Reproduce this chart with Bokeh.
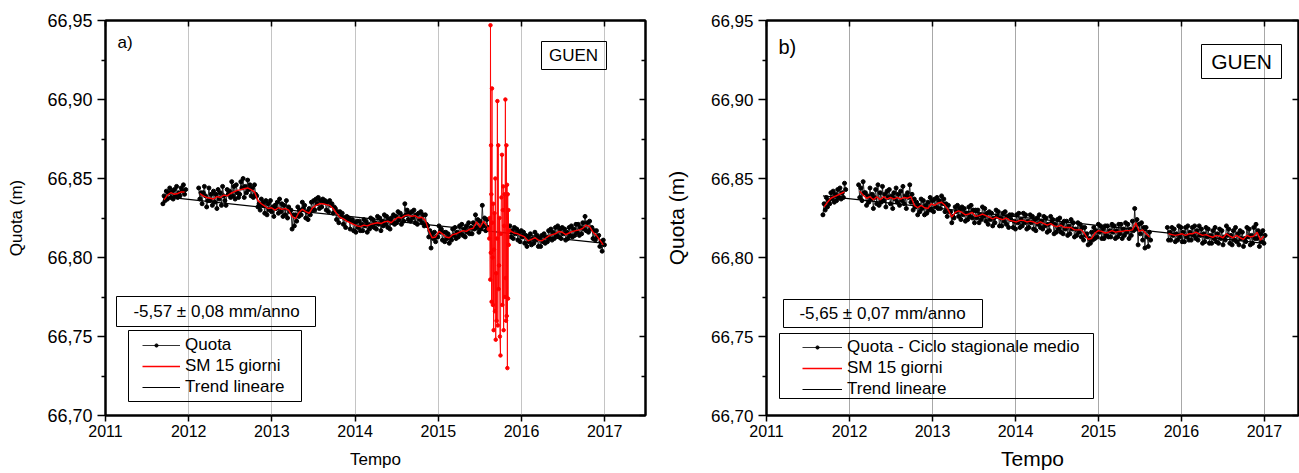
from bokeh.plotting import figure
from bokeh.models import (Range1d, LinearAxis, FixedTicker, CustomJSTickFormatter,
                          Legend, LegendItem, BoxAnnotation, Label)
from bokeh.layouts import row
from bokeh.embed import file_html
from bokeh.resources import INLINE

FONT = "Liberation Sans"
DAY = 1.0 / 365.25
Q_STEP = 5     # days between plotted Quota samples
SM_STEP = 15   # days between SM 15 giorni samples

years = [2011, 2012, 2013, 2014, 2015, 2016, 2017]
quota_ticks = [66.70, 66.75, 66.80, 66.85, 66.90, 66.95]
quota_minor = [66.725, 66.775, 66.825, 66.875, 66.925]

# ---------------- panel a) ----------------
seg_start_a = [2011.69, 2012.12, 2015.86]

quota_a_1 = [66.834, 66.839, 66.836, 66.842, 66.837, 66.841, 66.844, 66.838, 66.842, 66.837,
             66.843, 66.839, 66.845, 66.838, 66.841, 66.839, 66.844, 66.842, 66.846, 66.840, 66.843]

quota_a_2 = [
    66.844, 66.837, 66.841, 66.834, 66.841, 66.845, 66.839, 66.832, 66.836, 66.844, 66.836, 66.840,
    66.833, 66.842, 66.835, 66.840, 66.831, 66.843, 66.837, 66.841, 66.833, 66.845, 66.839, 66.836,
    66.833, 66.843, 66.840, 66.842, 66.838, 66.848, 66.839, 66.845, 66.837, 66.846, 66.841, 66.838,
    66.840, 66.848, 66.844, 66.850, 66.838, 66.845, 66.841, 66.849, 66.843, 66.846, 66.839, 66.844,
    66.838, 66.846, 66.840, 66.839, 66.832, 66.834, 66.830, 66.837, 66.833, 66.835, 66.828, 66.836,
    66.827, 66.834, 66.830, 66.836, 66.829, 66.832, 66.826, 66.833, 66.831, 66.835, 66.828, 66.837,
    66.829, 66.834, 66.826, 66.833, 66.827, 66.836, 66.825, 66.832, 66.829, 66.830, 66.818, 66.827,
    66.820, 66.827, 66.823, 66.832, 66.826, 66.830, 66.827, 66.835, 66.831, 66.833, 66.825, 66.829,
    66.824, 66.831, 66.827, 66.835, 66.830, 66.836, 66.830, 66.837, 66.834, 66.838, 66.831, 66.836,
    66.832, 66.837, 66.835, 66.836, 66.830, 66.835, 66.829, 66.836, 66.833, 66.834, 66.828, 66.832,
    66.831, 66.824, 66.829, 66.822, 66.829, 66.826, 66.828, 66.821, 66.825, 66.819, 66.826, 66.824,
    66.825, 66.818, 66.823, 66.824, 66.817, 66.822, 66.816, 66.823, 66.819, 66.823, 66.817, 66.821,
    66.817, 66.824, 66.820, 66.823, 66.816, 66.821, 66.818, 66.825, 66.820, 66.824, 66.819, 66.822,
    66.818, 66.826, 66.821, 66.825, 66.817, 66.823, 66.820, 66.827, 66.821, 66.826, 66.819, 66.824,
    66.818, 66.825, 66.822, 66.827, 66.821, 66.826, 66.822, 66.829, 66.824, 66.828, 66.821, 66.826,
    66.823, 66.834, 66.827, 66.830, 66.824, 66.828, 66.823, 66.829, 66.825, 66.830, 66.822, 66.827,
    66.821, 66.828, 66.824, 66.829, 66.822, 66.827, 66.820, 66.827, 66.821, 66.820, 66.813, 66.817,
    66.806, 66.815, 66.812, 66.816, 66.810, 66.813, 66.813, 66.820, 66.816, 66.818, 66.811, 66.816,
    66.810, 66.816, 66.812, 66.815, 66.809, 66.813, 66.811, 66.818, 66.814, 66.819, 66.812, 66.816,
    66.813, 66.820, 66.815, 66.821, 66.814, 66.818, 66.813, 66.820, 66.816, 66.822, 66.815, 66.819,
    66.815, 66.822, 66.818, 66.827, 66.819, 66.824, 66.816, 66.823, 66.818, 66.833, 66.820, 66.825,
    66.817, 66.824, 66.819]

quota_a_3 = [
    66.820, 66.813, 66.817, 66.812, 66.819, 66.815, 66.818, 66.811, 66.816, 66.810, 66.817, 66.813,
    66.816, 66.809, 66.814, 66.807, 66.813, 66.810, 66.815, 66.808, 66.812, 66.809, 66.816, 66.811,
    66.814, 66.807, 66.812, 66.807, 66.814, 66.810, 66.815, 66.809, 66.813, 66.810, 66.817, 66.812,
    66.818, 66.811, 66.816, 66.812, 66.819, 66.814, 66.820, 66.813, 66.818, 66.812, 66.819, 66.815,
    66.818, 66.811, 66.816, 66.812, 66.819, 66.814, 66.820, 66.813, 66.818, 66.814, 66.821, 66.816,
    66.821, 66.814, 66.819, 66.815, 66.822, 66.818, 66.826, 66.817, 66.822, 66.816, 66.823, 66.818,
    66.819, 66.812, 66.817, 66.811, 66.817, 66.813, 66.814, 66.807, 66.810, 66.804, 66.811, 66.808]

sm_a_1 = [66.8365, 66.8395, 66.8410, 66.8400, 66.8405, 66.8415, 66.8415]
sm_a_2 = [
    66.8405, 66.8390, 66.8380, 66.8375, 66.8370, 66.8385, 66.8380, 66.8395, 66.8390, 66.8405,
    66.8415, 66.8425, 66.8430, 66.8435, 66.8440, 66.8430, 66.8415, 66.8360, 66.8340, 66.8325,
    66.8310, 66.8315, 66.8300, 66.8315, 66.8305, 66.8310, 66.8300, 66.8260, 66.8245, 66.8285,
    66.8305, 66.8290, 66.8280, 66.8315, 66.8330, 66.8340, 66.8340, 66.8335, 66.8330, 66.8310,
    66.8280, 66.8255, 66.8245, 66.8230, 66.8220, 66.8210, 66.8200, 66.8195, 66.8205, 66.8200,
    66.8210, 66.8215, 66.8220, 66.8215, 66.8225, 66.8230, 66.8220, 66.8240, 66.8255, 66.8250,
    66.8265, 66.8270, 66.8260, 66.8265, 66.8250, 66.8255, 66.8235, 66.8170, 66.8125, 66.8130,
    66.8165, 66.8150, 66.8130, 66.8125, 66.8145, 66.8150, 66.8160, 66.8170, 66.8165, 66.8180,
    66.8185, 66.8225, 66.8190, 66.8230, 66.8200]
sm_a_3 = [
    66.8165, 66.8155, 66.8150, 66.8140, 66.8130, 66.8105, 66.8115, 66.8125, 66.8110, 66.8105,
    66.8120, 66.8135, 66.8145, 66.8150, 66.8165, 66.8160, 66.8145, 66.8155, 66.8165, 66.8170,
    66.8175, 66.8185, 66.8205, 66.8195, 66.8160, 66.8140, 66.8110, 66.8080]

# SM 15 giorni during the disturbed interval of 2015 (plotted with markers)
spike_a_t = [
    2015.605, 2015.612, 2015.619, 2015.624, 2015.627, 2015.631, 2015.634, 2015.637, 2015.640, 2015.645,
    2015.648, 2015.652, 2015.656, 2015.660, 2015.665, 2015.670, 2015.675, 2015.680, 2015.685, 2015.690,
    2015.695, 2015.700, 2015.705, 2015.710, 2015.715, 2015.720, 2015.725, 2015.730, 2015.735, 2015.740,
    2015.747, 2015.752, 2015.758, 2015.765, 2015.770, 2015.775, 2015.780, 2015.785, 2015.790, 2015.795,
    2015.800, 2015.806, 2015.810, 2015.814, 2015.818, 2015.822, 2015.826, 2015.830, 2015.834, 2015.838,
    2015.842, 2015.846, 2015.852]
spike_a_v = [
    66.818, 66.812, 66.825, 66.786, 66.947, 66.803, 66.871, 66.840, 66.772, 66.907,
    66.822, 66.800, 66.770, 66.834, 66.754, 66.805, 66.828, 66.766, 66.850, 66.748,
    66.790, 66.760, 66.812, 66.899, 66.757, 66.871, 66.780, 66.795, 66.825, 66.750,
    66.738, 66.815, 66.838, 66.865, 66.770, 66.830, 66.845, 66.754, 66.820, 66.840,
    66.775, 66.900, 66.787, 66.760, 66.871, 66.763, 66.846, 66.730, 66.840, 66.774,
    66.830, 66.808, 66.817]

trend_a_t = [2011.69, 2017.0]
trend_a_v = [66.8385, 66.8089]
rate_a = "-5,57 \u00b1 0,08 mm/anno"

# ---------------- panel b) ----------------
seg_start_b = [2011.68, 2012.11, 2015.83]

quota_b_1 = [66.827, 66.834, 66.830, 66.838, 66.832, 66.836, 66.834, 66.841, 66.837, 66.842,
             66.835, 66.840, 66.836, 66.843, 66.838, 66.844, 66.837, 66.841, 66.838, 66.847, 66.843]

quota_b_2 = [
    66.846, 66.838, 66.844, 66.836, 66.848, 66.841, 66.841, 66.833, 66.839, 66.835, 66.844, 66.837,
    66.840, 66.831, 66.838, 66.843, 66.834, 66.846, 66.833, 66.841, 66.835, 66.845, 66.836, 66.840,
    66.832, 66.842, 66.838, 66.843, 66.834, 66.839, 66.831, 66.841, 66.837, 66.844, 66.835, 66.840,
    66.833, 66.842, 66.836, 66.845, 66.834, 66.839, 66.831, 66.841, 66.838, 66.846, 66.835, 66.840,
    66.830, 66.837, 66.832, 66.835, 66.827, 66.833, 66.829, 66.837, 66.831, 66.836, 66.827, 66.833,
    66.828, 66.835, 66.830, 66.838, 66.830, 66.836, 66.829, 66.837, 66.832, 66.838, 66.831, 66.836,
    66.831, 66.839, 66.834, 66.837, 66.829, 66.834, 66.826, 66.833, 66.829, 66.829, 66.822, 66.826,
    66.825, 66.832, 66.829, 66.833, 66.826, 66.831, 66.824, 66.832, 66.827, 66.831, 66.823, 66.828,
    66.824, 66.832, 66.826, 66.833, 66.825, 66.830, 66.822, 66.830, 66.825, 66.830, 66.822, 66.827,
    66.824, 66.832, 66.826, 66.831, 66.823, 66.828, 66.821, 66.829, 66.824, 66.828, 66.820, 66.825,
    66.822, 66.830, 66.826, 66.829, 66.820, 66.825, 66.820, 66.828, 66.823, 66.829, 66.821, 66.826,
    66.819, 66.827, 66.824, 66.827, 66.819, 66.823, 66.818, 66.827, 66.822, 66.828, 66.819, 66.824,
    66.820, 66.828, 66.822, 66.827, 66.818, 66.823, 66.819, 66.827, 66.822, 66.826, 66.818, 66.824,
    66.817, 66.825, 66.821, 66.827, 66.819, 66.823, 66.818, 66.826, 66.820, 66.825, 66.816, 66.821,
    66.817, 66.826, 66.822, 66.824, 66.815, 66.821, 66.816, 66.824, 66.818, 66.825, 66.816, 66.821,
    66.815, 66.823, 66.818, 66.823, 66.814, 66.820, 66.815, 66.824, 66.818, 66.822, 66.813, 66.818,
    66.814, 66.822, 66.816, 66.821, 66.813, 66.819, 66.811, 66.819, 66.814, 66.815, 66.808, 66.812,
    66.809, 66.816, 66.811, 66.819, 66.812, 66.817, 66.813, 66.821, 66.816, 66.820, 66.812, 66.818,
    66.812, 66.820, 66.814, 66.820, 66.813, 66.817, 66.813, 66.821, 66.816, 66.820, 66.812, 66.817,
    66.813, 66.821, 66.815, 66.821, 66.812, 66.818, 66.814, 66.822, 66.816, 66.821, 66.812, 66.818,
    66.814, 66.823, 66.817, 66.831, 66.818, 66.824, 66.808, 66.821, 66.815, 66.822, 66.811, 66.819,
    66.806, 66.819, 66.813, 66.807, 66.816, 66.811]

quota_b_3 = [
    66.819, 66.811, 66.816, 66.811, 66.819, 66.814, 66.818, 66.810, 66.815, 66.811, 66.820, 66.813,
    66.819, 66.810, 66.816, 66.810, 66.819, 66.813, 66.820, 66.811, 66.816, 66.811, 66.819, 66.814,
    66.820, 66.812, 66.817, 66.811, 66.820, 66.814, 66.818, 66.809, 66.815, 66.810, 66.819, 66.813,
    66.818, 66.809, 66.814, 66.809, 66.817, 66.812, 66.819, 66.810, 66.815, 66.809, 66.818, 66.812,
    66.817, 66.808, 66.813, 66.811, 66.820, 66.814, 66.818, 66.809, 66.814, 66.808, 66.817, 66.811,
    66.819, 66.810, 66.815, 66.808, 66.817, 66.812, 66.816, 66.807, 66.812, 66.810, 66.819, 66.813,
    66.818, 66.808, 66.814, 66.809, 66.819, 66.812, 66.821, 66.812, 66.817, 66.807, 66.815, 66.810,
    66.817, 66.809, 66.814]

sm_b_1 = [66.8320, 66.8350, 66.8375, 66.8385, 66.8395, 66.8405, 66.8415]
sm_b_2 = [
    66.8420, 66.8395, 66.8375, 66.8385, 66.8365, 66.8385, 66.8365, 66.8385, 66.8370, 66.8380,
    66.8370, 66.8380, 66.8370, 66.8380, 66.8375, 66.8385, 66.8330, 66.8315, 66.8330, 66.8315,
    66.8310, 66.8340, 66.8330, 66.8345, 66.8350, 66.8330, 66.8300, 66.8255, 66.8285, 66.8295,
    66.8285, 66.8270, 66.8275, 66.8285, 66.8260, 66.8265, 66.8275, 66.8265, 66.8255, 66.8245,
    66.8255, 66.8245, 66.8240, 66.8250, 66.8235, 66.8230, 66.8225, 66.8235, 66.8235, 66.8225,
    66.8230, 66.8225, 66.8215, 66.8225, 66.8215, 66.8205, 66.8215, 66.8200, 66.8195, 66.8205,
    66.8190, 66.8190, 66.8190, 66.8175, 66.8175, 66.8175, 66.8150, 66.8115, 66.8120, 66.8155,
    66.8170, 66.8165, 66.8155, 66.8160, 66.8170, 66.8160, 66.8165, 66.8165, 66.8170, 66.8170,
    66.8175, 66.8220, 66.8165, 66.8175, 66.8150, 66.8130]
sm_b_3 = [
    66.8150, 66.8145, 66.8140, 66.8145, 66.8150, 66.8140, 66.8150, 66.8150, 66.8160, 66.8150,
    66.8140, 66.8145, 66.8135, 66.8128, 66.8140, 66.8135, 66.8125, 66.8150, 66.8135, 66.8125,
    66.8140, 66.8125, 66.8115, 66.8140, 66.8130, 66.8135, 66.8160, 66.8110, 66.8135]

trend_b_t = [2011.68, 2017.0]
trend_b_v = [66.8390, 66.8090]
rate_b = "-5,65 \u00b1 0,07 mm/anno"

station = "GUEN"


def q_times(start, n):
    return [start + i * Q_STEP * DAY for i in range(n)]


def sm_times(start, n):
    return [start + (Q_STEP + k * SM_STEP) * DAY for k in range(n)]


def style_text_axis(ax, tick_size, label_size):
    ax.major_label_text_font = FONT
    ax.major_label_text_font_size = tick_size
    ax.major_label_text_color = "black"
    ax.axis_label_text_font = FONT
    ax.axis_label_text_font_size = label_size
    ax.axis_label_text_font_style = "normal"
    ax.axis_label_text_color = "black"
    ax.axis_line_width = 2
    ax.axis_line_color = "black"
    ax.major_tick_line_color = "black"
    ax.minor_tick_line_color = "black"
    ax.major_tick_line_width = 1.5
    ax.minor_tick_line_width = 1.5


def build(cfg):
    p = figure(width=cfg["width"], height=473,
               x_range=Range1d(2011, cfg["xmax"]), y_range=Range1d(66.70, 66.95),
               output_backend="svg", toolbar_location=None,
               min_border_left=cfg["bl"], min_border_right=cfg["br"],
               min_border_top=20, min_border_bottom=cfg["bb"],
               x_axis_label="Tempo", y_axis_label="Quota (m)")
    p.outline_line_color = "black"
    p.outline_line_width = 2
    p.outline_line_alpha = 1
    p.background_fill_color = "white"
    p.border_fill_color = "white"

    p.xgrid.ticker = FixedTicker(ticks=years)
    p.xgrid.grid_line_color = cfg["grid"]
    p.xgrid.grid_line_width = 1
    p.ygrid.visible = False

    xa = p.xaxis[0]
    xa.ticker = FixedTicker(ticks=years)
    xa.formatter = CustomJSTickFormatter(code="return tick.toFixed(0);")
    xa.major_tick_out = 6
    xa.major_tick_in = 0
    xa.minor_tick_out = 0
    xa.minor_tick_in = 0
    style_text_axis(xa, cfg["xtick_fs"], cfg["label_fs"])
    xa.major_label_standoff = 3
    xa.axis_label_standoff = cfg["x_label_standoff"]

    ya = p.yaxis[0]
    ya.ticker = FixedTicker(ticks=quota_ticks, minor_ticks=quota_minor)
    ya.formatter = CustomJSTickFormatter(code="return tick.toFixed(2).replace('.', ',');")
    ya.major_tick_out = 8
    ya.major_tick_in = 0
    ya.minor_tick_out = 4
    ya.minor_tick_in = 0
    style_text_axis(ya, cfg["ytick_fs"], cfg["label_fs"])
    ya.major_label_standoff = 5
    ya.axis_label_standoff = cfg["y_label_standoff"]

    top = LinearAxis(ticker=FixedTicker(ticks=years),
                     formatter=CustomJSTickFormatter(code="return '';"),
                     major_tick_in=6, major_tick_out=0, minor_tick_in=0, minor_tick_out=0,
                     major_label_text_font_size="0px", major_label_standoff=0)
    top.axis_line_width = 2
    top.major_tick_line_width = 1.5
    p.add_layout(top, "above")

    right = LinearAxis(ticker=FixedTicker(ticks=quota_ticks,
                                          minor_ticks=quota_minor if cfg["right_minor"] else []),
                       formatter=CustomJSTickFormatter(code="return '';"),
                       major_tick_in=6, major_tick_out=0,
                       minor_tick_in=4 if cfg["right_minor"] else 0, minor_tick_out=0,
                       major_label_text_font_size="0px", major_label_standoff=0)
    right.axis_line_width = 2
    right.major_tick_line_width = 1.5
    right.minor_tick_line_width = 1.5
    p.add_layout(right, "right")

    # Quota series
    q_line = None
    first_t = first_v = None
    for start, vals in zip(cfg["starts"], cfg["quota"]):
        t = q_times(start, len(vals))
        if first_t is None:
            first_t, first_v = t[:1], vals[:1]
        q_line = p.line(t, vals, line_color="black", line_width=0.8)
        p.scatter(t, vals, marker="circle", size=4, color="black")
    # small dot, drawn on the first Quota sample; used as the legend symbol
    q_dot_leg = p.scatter(first_t, first_v, marker="circle", size=3, color="black")

    # trend
    tr = p.line(cfg["trend_t"], cfg["trend_v"], line_color="black", line_width=1.2)

    # SM 15 giorni
    red = None
    for xs, ys in cfg["sm_paths"]:
        red = p.line(xs, ys, line_color="#ff0000", line_width=1.4)
    if cfg.get("spike"):
        st, sv = cfg["spike"]
        p.line(st, sv, line_color="#ff0000", line_width=0.9)
        p.scatter(st[1:-1], sv[1:-1], marker="circle", size=3.5, color="#ff0000")

    legend = Legend(items=[LegendItem(label=cfg["q_label"], renderers=[q_line]),
                           LegendItem(label="SM 15 giorni", renderers=[red]),
                           LegendItem(label="Trend lineare", renderers=[tr])],
                    location=cfg["leg_loc"], orientation="vertical",
                    border_line_alpha=0, background_fill_alpha=0,
                    label_text_font=FONT, label_text_font_size="17px",
                    label_text_color="black",
                    glyph_width=cfg["glyph_w"], glyph_height=20, label_height=20,
                    label_standoff=5, spacing=1, padding=5, margin=0)
    p.add_layout(legend)

    # legend dot for "Quota": a second, glyph-only legend with a small glyph box
    dot_legend = Legend(items=[LegendItem(label="", renderers=[q_dot_leg])],
                        location=(cfg["leg_loc"][0] + cfg["glyph_w"] / 2 - 4 + 5 - 5,
                                  cfg["leg_loc"][1] + 5 + 2 * 21 + 6),
                        border_line_alpha=0, background_fill_alpha=0,
                        glyph_width=8, glyph_height=8, label_height=8, label_width=0,
                        label_standoff=0, spacing=0, padding=0, margin=0,
                        label_text_font_size="0px")
    p.add_layout(dot_legend)

    def box(l, r, t, b):
        p.add_layout(BoxAnnotation(left=l, right=r, top=t, bottom=b,
                                   left_units="screen", right_units="screen",
                                   top_units="screen", bottom_units="screen",
                                   fill_color=None, fill_alpha=0,
                                   line_color="black", line_alpha=1, line_width=1))

    box(*cfg["leg_box"])
    box(*cfg["rate_box"])
    box(*cfg["st_box"])

    p.add_layout(Label(x=cfg["rate_xy"][0], y=cfg["rate_xy"][1], x_units="screen", y_units="screen",
                       text=cfg["rate"], text_align="center", text_baseline="middle",
                       text_font=FONT, text_font_size="17px", text_color="black"))
    p.add_layout(Label(x=cfg["st_xy"][0], y=cfg["st_xy"][1], x_units="screen", y_units="screen",
                       text=station, text_align="center", text_baseline="middle",
                       text_font=FONT, text_font_size=cfg["st_fs"], text_color="black"))
    p.add_layout(Label(x=cfg["tag_xy"][0], y=cfg["tag_xy"][1], x_units="screen", y_units="screen",
                       text=cfg["tag"], text_align="left", text_baseline="top",
                       text_font=FONT, text_font_size=cfg["tag_fs"], text_color="black"))
    return p


# red paths
sa = seg_start_a
sm_a_2_t = sm_times(sa[1], len(sm_a_2))
sm_a_3_t = sm_times(sa[2], len(sm_a_3))
red_a = [
    (sm_times(sa[0], len(sm_a_1)), sm_a_1),
    (sm_a_2_t, sm_a_2),
    (sm_a_3_t, sm_a_3),
]
spike_path_a = ([sm_a_2_t[-1]] + spike_a_t + [sm_a_3_t[0]],
                [sm_a_2[-1]] + spike_a_v + [sm_a_3[0]])
sb = seg_start_b
red_b = [
    (sm_times(sb[0], len(sm_b_1)), sm_b_1),
    (sm_times(sb[1], len(sm_b_2)), sm_b_2),
    (sm_times(sb[2], len(sm_b_3)), sm_b_3),
]

cfg_a = dict(width=650, xmax=2017.49, bl=105, br=5, bb=56, grid="#c4c4c4",
             xtick_fs="16px", ytick_fs="18px", label_fs="17px",
             x_label_standoff=10, y_label_standoff=18, right_minor=True,
             starts=seg_start_a, quota=[quota_a_1, quota_a_2, quota_a_3],
             trend_t=trend_a_t, trend_v=trend_a_v, sm_paths=red_a,
             spike=spike_path_a, q_label="Quota",
             leg_loc=(32, 13), glyph_w=38,
             leg_box=(23, 196, 85, 14), rate_box=(11, 210, 119, 89), st_box=(436, 501, 374, 346),
             rate=rate_a, rate_xy=(111, 104), st_xy=(468, 360), st_fs="17px",
             tag="a)", tag_xy=(12, 383), tag_fs="17px")

cfg_b = dict(width=649, xmax=2017.41, bl=116, br=1, bb=58, grid="#a8a8a8",
             xtick_fs="16px", ytick_fs="17px", label_fs="21px",
             x_label_standoff=7, y_label_standoff=20, right_minor=False,
             starts=seg_start_b, quota=[quota_b_1, quota_b_2, quota_b_3],
             trend_t=trend_b_t, trend_v=trend_b_v, sm_paths=red_b,
             spike=None, q_label="Quota - Ciclo stagionale medio",
             leg_loc=(31, 11), glyph_w=40,
             leg_box=(13, 327, 82, 17), rate_box=(17, 216, 116, 88), st_box=(435, 515, 371, 337),
             rate=rate_b, rate_xy=(116, 102), st_xy=(475, 354), st_fs="21px",
             tag="b)", tag_xy=(12, 380), tag_fs="20px")

p1 = build(cfg_a)
p2 = build(cfg_b)

layout = row(p1, p2)
open("out.html", "w").write(file_html(layout, INLINE))
